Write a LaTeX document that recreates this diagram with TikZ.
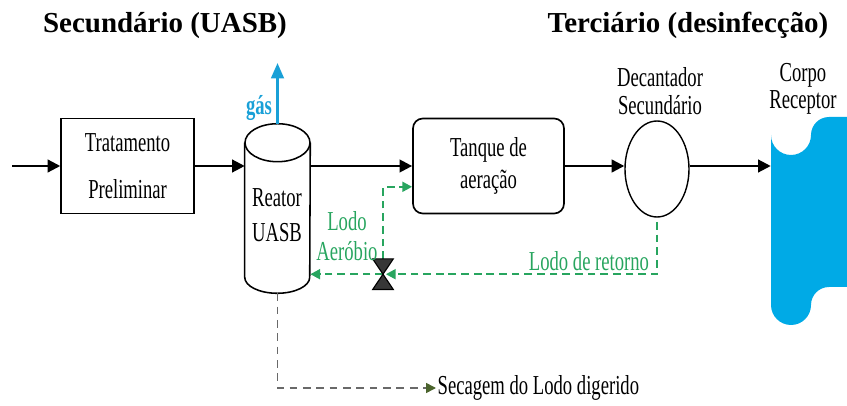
\documentclass[tikz,border=0pt]{standalone}
\usepackage{fontspec}
\setmainfont{Liberation Serif}
\newfontfamily\condfont[FakeStretch=0.68]{Liberation Serif}
\usetikzlibrary{arrows.meta,positioning,shapes.geometric,calc}

\definecolor{gasblue}{RGB}{25,160,215}
\definecolor{riocolor}{RGB}{0,170,230}
\definecolor{lodogreen}{RGB}{40,165,95}
\definecolor{secagray}{RGB}{105,105,105}
\definecolor{secahead}{RGB}{75,100,45}
\definecolor{valvegray}{RGB}{55,55,55}

\newcommand{\lbltxt}{\condfont\fontsize{19.5}{22}\selectfont}

\begin{document}
\begin{tikzpicture}[
  box/.style={draw, line width=1.2pt, minimum height=2.375cm, align=center,
              font=\lbltxt, inner sep=0pt},
  proc/.style={box, rounded corners=7pt},
  lbl/.style={font=\lbltxt, align=center, inner sep=0pt},
  tit/.style={font=\bfseries\fontsize{20.6}{24}\selectfont, anchor=base},
  flow/.style={-{Triangle[length=9pt,width=9pt]}, line width=1.6pt},
  gasarr/.style={-{Triangle[length=11pt,width=9pt]}, gasblue, line width=2pt},
  lodo/.style={-{Triangle[length=7pt,width=7pt]}, lodogreen, line width=1.7pt,
               dash pattern=on 5.5pt off 3.5pt},
  seca/.style={-{Triangle[length=7pt,width=7pt,color=secahead]}, secagray,
               line width=1.1pt, dash pattern=on 5.5pt off 4pt},
  cyl/.style={line width=1.1pt, fill=white},
  valve/.style={draw=black, fill=valvegray, line width=0.8pt},
]
\useasboundingbox (0,0) rectangle (21.175,10.125);

% stage titles
\node[tit] (sec) at (4.125,9.3) {Secundário (UASB)};
\node[tit] (ter) at (17.2,9.3) {Terciário (desinfecção)};

% main line
\coordinate (entrada) at (0.3,5.975);
\node[box, minimum width=3.325cm] (trat) at (3.19,5.975) {Tratamento\\[11.4pt]Preliminar};
\node[proc, minimum width=3.775cm] (tanque) at (12.2125,5.975) {Tanque de\\[0.8pt]aeração};
\node[draw, ellipse, line width=1pt, minimum width=1.6cm, minimum height=2.4cm,
      inner sep=0pt] (decant) at (16.425,5.9) {};
\node[lbl] (decanttxt) at (16.5,7.85) {Decantador\\[-2.1pt]Secundário};

% UASB reactor
\node[minimum width=1.625cm, minimum height=4.225cm, inner sep=0pt] (reator) at (6.9375,4.9125) {};
\draw[cyl] ($(reator.north west)+(0,-0.475)$) -- ($(reator.south west)+(0,0.4)$)
  arc[start angle=180, end angle=360, x radius=0.8125, y radius=0.4]
  -- ($(reator.north east)+(0,-0.475)$);
\draw[cyl] ($(reator.north)+(0,-0.475)$) ellipse[x radius=0.8125, y radius=0.475];
\node[lbl] (reatortxt) at (6.925,4.74) {Reator\\[2.9pt]UASB};

\coordinate (gas) at (6.9375,8.55);
\draw[gasarr] (reator.north) -- (gas);
\node[lbl, text=gasblue, font=\lbltxt\bfseries] (gastxt) at (6.475,7.425) {gás};

% receiving water body
\node[minimum width=1.9cm, minimum height=4.25cm, inner sep=0pt] (corpo) at (20.225,4.625) {};
\fill[riocolor] (19.275,6.75) arc[start angle=180, end angle=360, radius=0.5]
  arc[start angle=180, end angle=90, radius=0.45] -- (21.175,7.2) -- (21.175,2.95)
  -- (20.725,2.95) arc[start angle=90, end angle=180, radius=0.45]
  arc[start angle=0, end angle=-180, radius=0.5] -- cycle;
\node[lbl] (corpotxt) at (20.075,7.9) {Corpo\\[-2.8pt]Receptor};

\draw[flow] (entrada) -- (trat.west);
\draw[flow] (trat.east) -- (trat.east -| reator.west);
\draw[flow] (reator.east |- tanque.west) -- (tanque.west);
\draw[flow] (tanque.east) -- (tanque.east -| decant.west);
\draw[flow] (decant.east |- tanque.east) -- (tanque.east -| corpo.west);

% sludge return with valve
\node[minimum width=0.5cm, minimum height=0.75cm, inner sep=0pt] (valv) at (9.575,3.27) {};
\draw[lodo] (valv.center) -- (valv.center -| reator.east);
\draw[lodo] (valv.north) |- ([yshift=-0.52cm]tanque.west);
\draw[valve] (valv.north west) -- (valv.north east) -- (valv.south west) -- (valv.south east) -- cycle;
\draw[lodo] ([yshift=-3pt]decant.south) |- ([xshift=2pt]valv.center);
\node[lbl, text=lodogreen] (aerob) at (8.675,4.225) {Lodo\\[-0.7pt]Aeróbio};
\node[lbl, text=lodogreen] (retorno) at (14.725,3.6) {Lodo de retorno};

% digested sludge out
\node[lbl, anchor=west, inner sep=1pt] (secagem) at (10.9,0.425) {Secagem do Lodo digerido};
\draw[seca] (reator.south) |- (secagem.west);
\end{tikzpicture}
\end{document}
